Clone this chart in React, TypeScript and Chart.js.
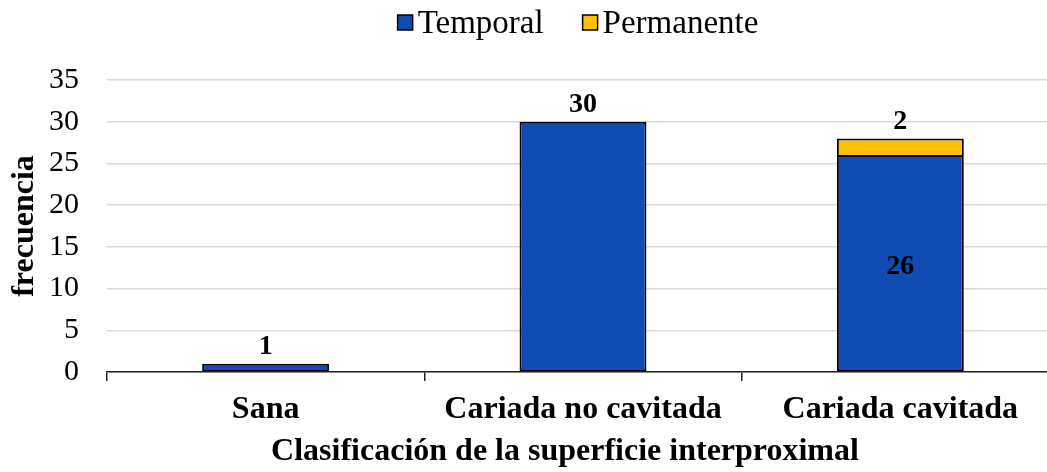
import React, { useEffect, useRef } from "react";
import { Chart, registerables } from "chart.js";

Chart.register(...registerables);

const categories = ["Sana", "Cariada no cavitada", "Cariada cavitada"];
const temporalValues = [1, 30, 26];
const permanenteValues = [0, 0, 2];
const seriesNames = ["Temporal", "Permanente"];
const seriesColors = ["#0F4DB4", "#FFC000"];
const yTicks = [0, 5, 10, 15, 20, 25, 30, 35];
const yTitle = "frecuencia";
const xTitle = "Clasificación de la superficie interproximal";

const SERIF = '"Times New Roman", "Liberation Serif", serif';

const labelsPlugin = {
  id: "valueLabels",
  afterDatasetsDraw(chart: any) {
    const ctx = chart.ctx;
    ctx.save();
    ctx.font = `bold 28px ${SERIF}`;
    ctx.fillStyle = "#000";
    ctx.textAlign = "center";
    const ds = chart.data.datasets;
    ds.forEach((d: any, i: number) => {
      const meta = chart.getDatasetMeta(i);
      meta.data.forEach((el: any, j: number) => {
        const v = d.data[j];
        if (!v) return;
        let isTop = true;
        for (let k = i + 1; k < ds.length; k++) if (ds[k].data[j]) isTop = false;
        if (isTop) {
          ctx.textBaseline = "bottom";
          ctx.fillText(String(v), el.x, el.y - 3);
        } else {
          ctx.textBaseline = "middle";
          ctx.fillText(String(v), el.x, (el.y + el.base) / 2 + 4);
        }
      });
    });
    ctx.restore();
  },
};

const extrasPlugin = {
  id: "extras",
  afterDraw(chart: any) {
    const ctx = chart.ctx;
    ctx.save();
    // legend
    ctx.font = `33px ${SERIF}`;
    const box = 15;
    const gapText = 5;
    const gapItem = 39;
    const widths = seriesNames.map((n) => box + gapText + ctx.measureText(n).width);
    const total = widths.reduce((a, b) => a + b, 0) + gapItem * (widths.length - 1);
    let x = 578 - total / 2;
    seriesNames.forEach((n, i) => {
      ctx.fillStyle = seriesColors[i];
      ctx.fillRect(x, 15, box, box);
      ctx.strokeStyle = "#000";
      ctx.lineWidth = 1.5;
      ctx.strokeRect(x, 15, box, box);
      ctx.fillStyle = "#000";
      ctx.textBaseline = "alphabetic";
      ctx.textAlign = "left";
      ctx.fillText(n, x + box + gapText, 33);
      x += widths[i] + gapItem;
    });
    // x title
    ctx.font = `bold 32px ${SERIF}`;
    ctx.textAlign = "center";
    ctx.textBaseline = "alphabetic";
    ctx.fillText(xTitle, 565, 460);
    ctx.restore();
  },
};

export default function App() {
  const ref = useRef<HTMLCanvasElement | null>(null);
  useEffect(() => {
    if (!ref.current) return;
    const chart = new Chart(ref.current, {
      type: "bar",
      data: {
        labels: categories,
        datasets: [
          {
            label: seriesNames[0],
            data: temporalValues,
            backgroundColor: seriesColors[0],
            borderColor: "#000",
            borderWidth: 2,
            borderSkipped: false,
            barPercentage: 0.4,
            categoryPercentage: 1,
          },
          {
            label: seriesNames[1],
            data: permanenteValues,
            backgroundColor: seriesColors[1],
            borderColor: "#000",
            borderWidth: { top: 2, left: 2, right: 2, bottom: 0 },
            borderSkipped: false,
            barPercentage: 0.4,
            categoryPercentage: 1,
          },
        ],
      },
      options: {
        responsive: false,
        animation: false,
        devicePixelRatio: 1,
        layout: { padding: { top: 80, right: 1, left: 0, bottom: 0 } },
        plugins: { legend: { display: false }, tooltip: { enabled: false } },
        scales: {
          x: {
            stacked: true,
            offset: true,
            afterFit(scale: any) {
              scale.height = 100;
            },
            border: { display: true, color: "#222", width: 1.5 },
            grid: {
              display: true,
              drawOnChartArea: false,
              drawTicks: true,
              tickLength: 9,
              color: "#222",
              lineWidth: 1.5,
              offset: true,
            },
            ticks: {
              color: "#000",
              font: { family: SERIF, size: 32, weight: "bold" },
              padding: 10,
              maxRotation: 0,
              autoSkip: false,
            },
          },
          y: {
            stacked: true,
            min: 0,
            max: 35,
            afterFit(scale: any) {
              scale.width = 107;
            },
            afterBuildTicks(scale: any) {
              scale.ticks = yTicks.map((v) => ({ value: v }));
            },
            border: { display: false },
            grid: { color: "#D9D9D9", lineWidth: 1.5, drawTicks: false },
            ticks: {
              color: "#000",
              font: { family: SERIF, size: 30 },
              padding: 28,
            },
            title: {
              display: true,
              text: yTitle,
              color: "#000",
              font: { family: SERIF, size: 32, weight: "bold" },
              padding: { top: 6, bottom: 0 },
            },
          },
        },
      },
      plugins: [labelsPlugin, extrasPlugin],
    });
    return () => chart.destroy();
  }, []);
  return (
    <div
      style={{
        position: "absolute",
        left: 0,
        top: 0,
        width: 1047,
        height: 472,
        overflow: "hidden",
        background: "#fff",
      }}
    >
      <canvas ref={ref} width={1060} height={472} style={{ display: "block" }} />
    </div>
  );
}
